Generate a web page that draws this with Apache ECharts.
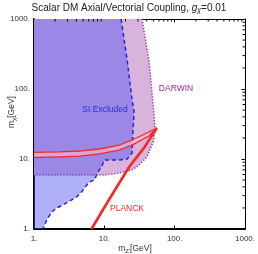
<!DOCTYPE html>
<html><head><meta charset="utf-8">
<script src="https://cdn.jsdelivr.net/npm/echarts@6/dist/echarts.min.js"></script>
<style>html,body{margin:0;padding:0;background:#fff}#c{width:258px;height:254px}</style>
</head><body><div id="c"></div>
<script>
// Data (x = m_Z' [GeV], y = m_chi [GeV])
const xTicks = [1, 10, 100, 1000];
const yTicks = [1, 10, 100, 1000];
const siBoundary = [[17.3,1000],[21.1,260],[24.8,70],[26.5,47],[25.6,26],[24.8,12.2],[21.1,10],[16.3,9.7],[10,9.7],[9.37,8.2],[7.97,6.3],[7.23,5.0],[6.1,4.7],[4.74,3.38],[4.03,2.87],[2.56,2.2],[2.11,2.0],[1.79,1.75],[1.52,1.35],[1.34,1.0]];
const darwinBoundary = [[34.3,1000],[43,260],[50.6,47],[52.3,28.7],[50.6,18.7],[40.3,10.7],[31.1,8.2],[24.8,7.0],[16.3,6.3],[10,5.9],[1,5.9]];
const planckUpper = [[1,12.4],[2.32,12.6],[4.45,13.0],[8.5,13.9],[16.3,15.8],[24.8,18.7],[43,24.3],[55.8,27.7]];
const planckLower = [[1,10.5],[2.32,10.7],[4.45,11.0],[8.5,11.8],[16.3,13.4],[24.8,15.8],[43,21.3],[55.8,27.7]];
const planckDiag = [[6.56,1],[11.8,2.68],[22.5,7.69],[36.6,14.4],[55.8,27.7]];
const minorTickVals = [2,3,4,5,6,7,8,9,20,30,40,50,60,70,80,90,200,300,400,500,600,700,800,900];

const siRegion = [[1,1000]].concat(siBoundary, [[1,1]]);
const darwinRegion = [[1,1000]].concat(darwinBoundary);
const planckBand = planckUpper.concat(planckLower.slice().reverse());

function poly(points, style, z){
  return {type:'custom', coordinateSystem:'cartesian2d', data:[[1,1]], z:z, silent:true,
    renderItem:function(params, api){
      return {type:'polygon', shape:{points: points.map(p=>api.coord(p))}, style: style};
    }};
}
function line(points, color, width, dash, z){
  return {type:'line', data:points, symbol:'none', z:z, silent:true,
    lineStyle:{color:color, width:width, type:dash, cap:'butt', join:'round'}};
}
const minorTicks = {type:'custom', coordinateSystem:'cartesian2d', data:[[1,1]], z:20, silent:true,
  renderItem:function(params, api){
    const ch=[];
    const L=2.5;
    const x1=api.coord([1000,1])[0];
    const y1=api.coord([1,1000])[1];
    minorTickVals.forEach(v=>{
      const px=api.coord([v,1])[0], py=api.coord([1,v])[1];
      ch.push({type:'line',shape:{x1:px,y1:y1,x2:px,y2:y1+L},style:{stroke:'#000',lineWidth:1}});
      ch.push({type:'line',shape:{x1:x1,y1:py,x2:x1-L,y2:py},style:{stroke:'#000',lineWidth:1}});
    });
    return {type:'group', children:ch};
  }};

const font = 'Liberation Sans, Arial, sans-serif';
const axisCommon = {type:'log', logBase:10, min:1, max:1000,
  splitLine:{show:false}, axisTick:{show:true, inside:true, length:3.5, lineStyle:{color:'#000'}},
  axisLine:{show:true, onZero:false, lineStyle:{color:'#000', width:2}}};

const chart = echarts.init(document.getElementById('c'), null, {renderer:'canvas'});
chart.setOption({
  animation:false,
  backgroundColor:'#fff',
  grid:{left:34, right:11, top:19, bottom:25},
  xAxis:[
    Object.assign({}, axisCommon, {position:'bottom',
      axisLabel:{fontSize:8, color:'#333', fontFamily:font, margin:6, formatter:v=>v+'.', showMinLabel:true, showMaxLabel:true}}),
    Object.assign({}, axisCommon, {position:'top', axisLabel:{show:false}, axisLine:{show:true, onZero:false, lineStyle:{color:'#000', width:1}}})
  ],
  yAxis:[
    Object.assign({}, axisCommon, {position:'left',
      axisLabel:{fontSize:8, color:'#333', fontFamily:font, margin:4, formatter:v=>v+'.', showMinLabel:true, showMaxLabel:true}}),
    Object.assign({}, axisCommon, {position:'right', axisLabel:{show:false}, axisLine:{show:true, onZero:false, lineStyle:{color:'#000', width:1}}})
  ],
  series:[
    poly(darwinRegion, {fill:'rgb(216,180,220)'}, 1),
    poly(siRegion, {fill:'rgba(83,83,240,0.46)'}, 2),
    line(siBoundary, '#2323e8', 1.5, [4,3], 3),
    line(darwinBoundary, '#9a2a9e', 1.5, [1.2,1.8], 3),
    poly(planckBand, {fill:'rgba(255,190,205,0.6)'}, 4),
    line(planckUpper, '#f52828', 1.3, 'solid', 5),
    line(planckLower, '#f52828', 1.3, 'solid', 5),
    line(planckDiag, '#f52828', 2.6, 'solid', 5),
    minorTicks
  ],
  graphic:[
    {type:'text', left:'center', top:3, style:{text:'{n|Scalar DM Axial/Vectorial Coupling, }{g|g}{s|χ}{n|=0.01}',
      rich:{n:{fontSize:10, fontFamily:font, fill:'#222'}, g:{fontSize:10, fontStyle:'italic', fontFamily:font, fill:'#222'},
            s:{fontSize:7, fontStyle:'italic', fontFamily:font, fill:'#222', padding:[5,0,0,0]}}}},
    {type:'text', x:105, y:110, style:{text:'SI Excluded', fontSize:8.5, fontFamily:font, fill:'#2a2ae6', align:'center', verticalAlign:'middle'}, z:50},
    {type:'text', x:176, y:89, style:{text:'DARWIN', fontSize:8.5, fontFamily:font, fill:'#9a2a9e', align:'center', verticalAlign:'middle'}, z:50},
    {type:'text', x:127, y:209, style:{text:'PLANCK', fontSize:8.5, fontFamily:font, fill:'#f52828', align:'center', verticalAlign:'middle'}, z:50},
    {type:'text', x:135, y:249, style:{text:'{n|m}{s|Z\'}{n|[GeV]}', align:'center', verticalAlign:'middle',
      rich:{n:{fontSize:8.5, fontFamily:font, fill:'#333'}, s:{fontSize:6, fontFamily:font, fill:'#333', padding:[4,0,0,0]}}}, z:50},
    {type:'text', x:12, y:112, rotation:Math.PI/2, style:{text:'{n|m}{s|χ}{n|[GeV]}', align:'center', verticalAlign:'middle',
      rich:{n:{fontSize:8.5, fontFamily:font, fill:'#333'}, s:{fontSize:6, fontFamily:font, fill:'#333', padding:[4,0,0,0]}}}, z:50}
  ]
});
</script></body></html>
